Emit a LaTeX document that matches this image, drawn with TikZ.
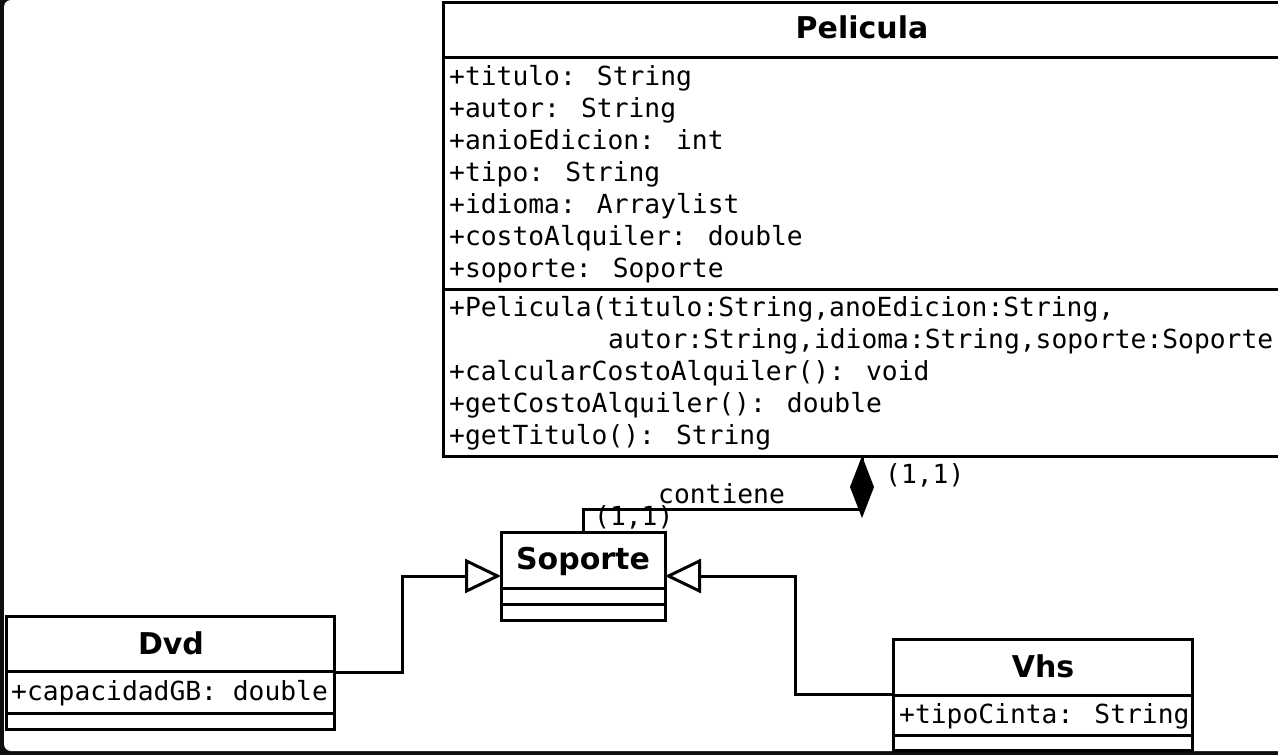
\documentclass[tikz,border=0pt]{standalone}
\usepackage{fontspec}
\usetikzlibrary{arrows.meta,calc}
\newfontfamily\umono{DejaVu Sans Mono}
\newfontfamily\uhead{DejaVu Sans}
\definecolor{frame}{RGB}{14,14,14}
\begin{document}
\begin{tikzpicture}[x=1pt,y=-1pt,
  cls/.style={draw=black, line width=3pt, fill=white, rectangle, inner sep=0pt, outer sep=0pt},
  attr/.style={anchor=base west, inner sep=0pt, font=\umono\fontsize{26.3}{30}\selectfont},
  lbl/.style={anchor=base west, inner sep=0pt, font=\umono\fontsize{26.3}{30}\selectfont},
  hd/.style={anchor=base, inner sep=0pt, font=\uhead\bfseries\fontsize{30}{36}\selectfont},
  sep/.style={line width=3pt},
  conn/.style={line width=3pt, line join=miter},
  gen/.style={conn, -{Triangle[open, length=36pt, width=34pt, line width=3pt]}}
]
\useasboundingbox (0,0) rectangle (1278,755);
\clip (0,0) rectangle (1278,755);
% screen frame
\fill[frame] (0,0) rectangle (1278,755);
\fill[white, rounded corners=7pt] (4,0) rectangle (1300,751);

% Pelicula
\node[cls, minimum width=847pt, minimum height=454pt] (pel) at (866.5,229) {};
\draw[sep] (pel.west |- 0,57) -- (pel.east |- 0,57);
\draw[sep] (pel.west |- 0,289) -- (pel.east |- 0,289);
\node[hd] (pelname) at (862,38) {Pelicula};
\node[attr] (a1) at (449,85) {+titulo: String};
\node[attr] (a2) at (449,117) {+autor: String};
\node[attr] (a3) at (449,149) {+anioEdicion: int};
\node[attr] (a4) at (449,181) {+tipo: String};
\node[attr] (a5) at (449,213) {+idioma: Arraylist};
\node[attr] (a6) at (449,245) {+costoAlquiler: double};
\node[attr] (a7) at (449,277) {+soporte: Soporte};
\node[attr] (m1) at (449,316) {+Pelicula(titulo:String,anoEdicion:String,};
\node[attr] (m1b) at (608,348) {autor:String,idioma:String,soporte:Soporte};
\node[attr] (m2) at (449,380) {+calcularCostoAlquiler(): void};
\node[attr] (m3) at (449,412) {+getCostoAlquiler(): double};
\node[attr] (m4) at (449,444) {+getTitulo(): String};

% Soporte
\node[cls, minimum width=164pt, minimum height=88pt] (sop) at (583,576) {};
\draw[sep] (sop.west |- 0,588) -- (sop.east |- 0,588);
\draw[sep] (sop.west |- 0,604) -- (sop.east |- 0,604);
\node[hd] (sopname) at (583,569) {Soporte};

% Dvd
\node[cls, minimum width=328pt, minimum height=113pt] (dvd) at (170,672.5) {};
\draw[sep] (dvd.west |- 0,671) -- (dvd.east |- 0,671);
\draw[sep] (dvd.west |- 0,713) -- (dvd.east |- 0,713);
\node[hd] (dvdname) at (171,654) {Dvd};
\node[attr] (d1) at (11,700) {+capacidadGB: double};

% Vhs
\node[cls, minimum width=299pt, minimum height=111pt] (vhs) at (1042.5,694.5) {};
\draw[sep] (vhs.west |- 0,695) -- (vhs.east |- 0,695);
\draw[sep] (vhs.west |- 0,735) -- (vhs.east |- 0,735);
\node[hd] (vhsname) at (1043,677) {Vhs};
\node[attr] (v1) at (899,723) {+tipoCinta: String};

% generalizations
\draw[gen] (dvd.east) -- ++(68,0) |- (sop.west);
\draw[gen] (vhs.west) -- ++(-98,0) |- (sop.east);

% composition
\draw[conn] (sop.north) -- ++(0,-23) -| ([xshift=-4.5pt]pel.south);
\fill[black] ([xshift=-4.5pt]pel.south) -- ++(12,31) -- ++(-12,31) -- ++(-12,-31) -- cycle;
\node[lbl] (m11a) at (885,483) {(1,1)};
\node[lbl] (cont) at (658,503) {contiene};
\node[lbl] (m11b) at (594,525) {(1,1)};
\end{tikzpicture}
\end{document}
